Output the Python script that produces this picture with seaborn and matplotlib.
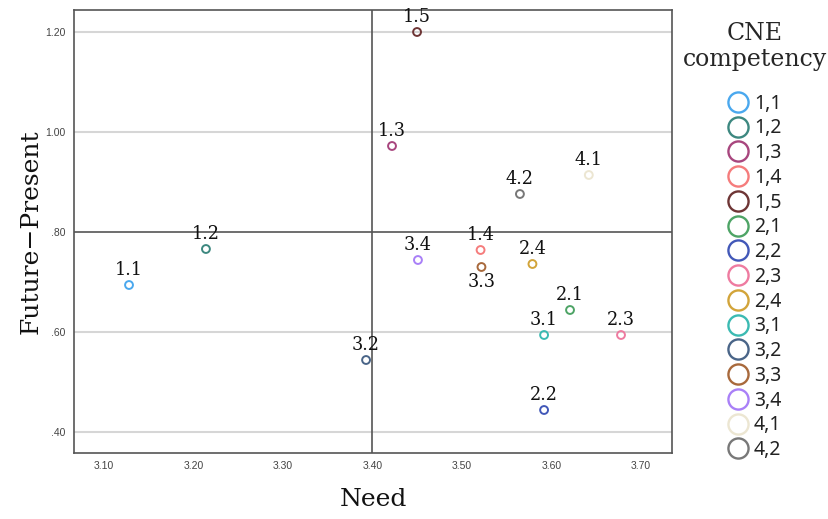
import matplotlib
matplotlib.use("Agg")
import matplotlib.pyplot as plt
from matplotlib.lines import Line2D
import seaborn as sns
import pandas as pd

# Competency codes and their coordinates (Need vs Future-Present)
codes = ['1.1', '1.2', '1.3', '1.4', '1.5', '2.1', '2.2', '2.3', '2.4',
         '3.1', '3.2', '3.3', '3.4', '4.1', '4.2']
need = [3.128, 3.214, 3.422, 3.521, 3.450, 3.621, 3.592, 3.678, 3.579,
        3.592, 3.393, 3.522, 3.451, 3.642, 3.565]
future_present = [0.694, 0.766, 0.972, 0.764, 1.200, 0.644, 0.444, 0.594, 0.736,
                  0.594, 0.544, 0.730, 0.744, 0.914, 0.876]
legend_labels = ['1,1', '1,2', '1,3', '1,4', '1,5', '2,1', '2,2', '2,3', '2,4',
                 '3,1', '3,2', '3,3', '3,4', '4,1', '4,2']
colors = ['#4aa8ee', '#3d8880', '#a8467e', '#f57c7c', '#6e3535', '#4ea466',
          '#4258b8', '#ee7ba0', '#d2a43a', '#3bbab2', '#4a6588', '#a8693c',
          '#a980f7', '#ece6d2', '#787878']
# labels drawn below the point instead of above
below = ['3.3']

df = pd.DataFrame({'code': codes, 'need': need, 'fp': future_present})
palette = dict(zip(codes, colors))

SERIF = 'DejaVu Serif'

sns.set_style('white')
fig = plt.figure(figsize=(8.29, 5.19), dpi=100)
ax = fig.add_axes([74 / 829, 1 - 453 / 519, (672 - 74) / 829, (453 - 10) / 519])

sns.scatterplot(data=df, x='need', y='fp', hue='code', palette=palette,
                s=32, linewidth=1.4, legend=False, ax=ax, zorder=3)
coll = ax.collections[0]
coll.set_edgecolors(coll.get_facecolors())
coll.set_facecolors('none')

ax.set_xlim(3.0665, 3.735)
ax.set_ylim(0.358, 1.244)

# grid lines and reference lines
for yv in [0.40, 0.60, 1.00, 1.20]:
    ax.axhline(yv, color='#d6d6d6', lw=1.5, zorder=1)
ax.axhline(0.80, color='#555555', lw=1.2, zorder=2)
ax.axvline(3.40, color='#555555', lw=1.2, zorder=2)

for _, r in df.iterrows():
    if r['code'] in below:
        ax.annotate(r['code'], (r['need'], r['fp']), xytext=(0, -4.5),
                    textcoords='offset points', ha='center', va='top',
                    fontsize=12.7, family=SERIF, color='#111111')
    else:
        ax.annotate(r['code'], (r['need'], r['fp']), xytext=(0, 7),
                    textcoords='offset points', ha='center', va='baseline',
                    fontsize=12.7, family=SERIF, color='#111111')

xt = [3.10, 3.20, 3.30, 3.40, 3.50, 3.60, 3.70]
yt = [0.40, 0.60, 0.80, 1.00, 1.20]
ax.set_xticks(xt)
ax.set_xticklabels([f'{v:.2f}' for v in xt])
ax.set_yticks(yt)
ax.set_yticklabels(['.40', '.60', '.80', '1.00', '1.20'])
ax.tick_params(length=0, labelsize=7.5, labelcolor='#444444', pad=6)
for lab in ax.get_xticklabels() + ax.get_yticklabels():
    lab.set_family('Liberation Sans')

for sp in ax.spines.values():
    sp.set_color('#555555')
    sp.set_linewidth(1.2)

ax.set_xlabel('Need', fontsize=18, family=SERIF, color='#111111', labelpad=12)
ax.set_ylabel('Future\u2212Present', fontsize=18, family=SERIF, color='#111111', labelpad=2)

handles = [Line2D([], [], marker='o', linestyle='', markersize=14.5,
                  markerfacecolor='none', markeredgecolor=c, markeredgewidth=1.7)
           for c in colors]
leg = fig.legend(handles, legend_labels, title='CNE\ncompetency',
                 loc='upper center', bbox_to_anchor=(755 / 829, 1 - 12 / 519),
                 frameon=False, handlelength=1.0, handletextpad=0.3,
                 labelspacing=0.245, borderpad=0,
                 prop={'family': 'Noto Sans', 'size': 14},
                 title_fontproperties={'family': SERIF, 'size': 17})
leg.get_title().set_multialignment('center')
for t in leg.get_texts():
    t.set_color('#222222')
leg._legend_box.sep = 16

fig.savefig('out.png', dpi=100)
